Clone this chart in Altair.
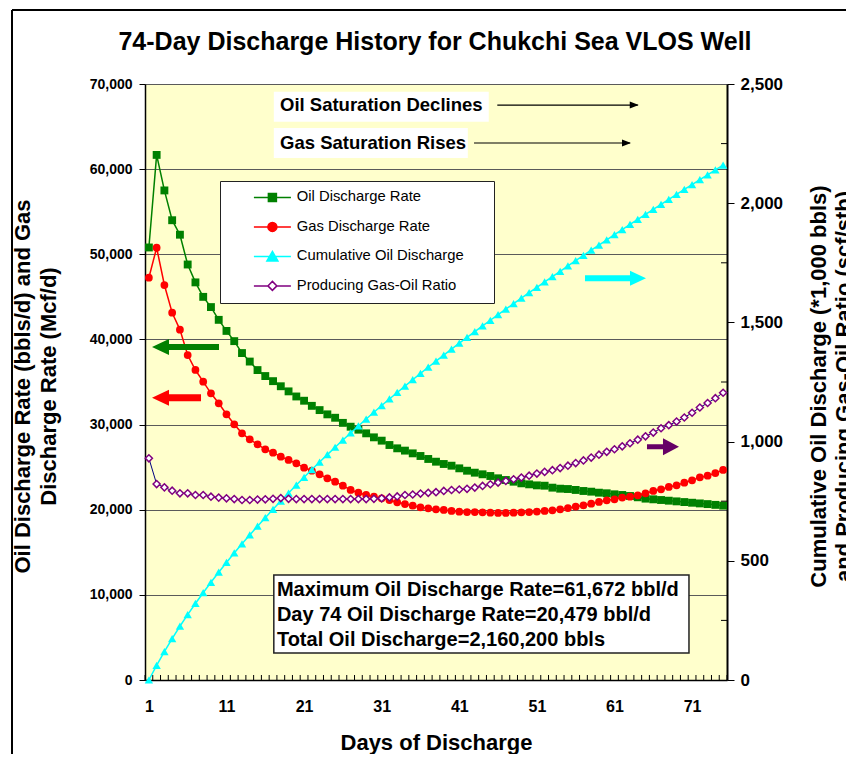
import altair as alt
import pandas as pd

# ---------------- data ----------------
chart_title = "74-Day Discharge History for Chukchi Sea VLOS Well"
days = list(range(1, 76))

oil_rate = [50800, 61672, 57500, 54000, 52300, 48800, 46700, 45000, 43800, 42300,
            41000, 39800, 38400, 37400, 36400, 35700, 35100, 34500, 33900, 33300,
            32800, 32200, 31700, 31200, 30800, 30200, 29750, 29400, 28970, 28500,
            28110, 27600, 27210, 26940, 26620, 26310, 25960, 25640, 25370, 25170,
            24860, 24580, 24350, 24160, 23960, 23690, 23490, 23290, 23100, 22980,
            22860, 22820, 22590, 22470, 22430, 22320, 22200, 22120, 22000, 21930,
            21810, 21730, 21610, 21460, 21300, 21220, 21140, 21060, 20980, 20900,
            20820, 20740, 20660, 20570, 20479]

gas_rate = [47250, 50770, 46390, 43140, 41150, 38170, 36410, 35040, 33670, 32500,
            31210, 30030, 28970, 28270, 27680, 27100, 26700, 26230, 25840, 25450,
            24940, 24580, 24160, 23690, 23290, 22820, 22320, 22000, 21730, 21530,
            21340, 21140, 20870, 20670, 20470, 20280, 20160, 20050, 19970, 19850,
            19770, 19730, 19730, 19700, 19650, 19620, 19620, 19650, 19700, 19730,
            19780, 19850, 19930, 20050, 20200, 20360, 20520, 20710, 20910, 21100,
            21220, 21420, 21530, 21690, 21930, 22200, 22400, 22670, 22870, 23170,
            23450, 23810, 24000, 24310, 24670]

cum_oil = [0, 61.7, 119.2, 173.2, 225.5, 274.3, 321.0, 366.0, 409.8, 452.1,
           493.1, 532.9, 571.3, 608.7, 645.1, 680.8, 715.9, 750.4, 784.3, 817.6,
           850.4, 882.6, 914.3, 945.5, 976.3, 1006.5, 1036.3, 1065.7, 1094.7, 1123.2,
           1151.3, 1178.9, 1206.1, 1233.0, 1259.6, 1285.9, 1311.9, 1337.5, 1362.9, 1388.1,
           1412.8, 1437.2, 1461.3, 1485.3, 1509.0, 1532.5, 1555.8, 1578.9, 1601.8, 1624.6,
           1647.2, 1669.8, 1692.2, 1714.5, 1736.7, 1758.8, 1780.8, 1802.7, 1824.5, 1846.3,
           1867.9, 1889.4, 1910.8, 1932.1, 1953.2, 1974.2, 1995.1, 2016.0, 2036.8, 2057.5,
           2078.1, 2098.6, 2119.1, 2139.5, 2160.2]

gor = [930, 822, 808, 794, 783, 783, 776, 776, 769, 765,
       762, 759, 755, 755, 757, 758, 760, 763, 760, 759,
       759, 759, 759, 759, 759, 759, 759, 759, 759, 760,
       762, 766, 770, 776, 778, 782, 785, 788, 793, 797,
       799, 802, 807, 814, 821, 828, 835, 842, 849, 857,
       866, 873, 880, 889, 899, 910, 921, 933, 945, 957,
       968, 980, 993, 1008, 1022, 1038, 1056, 1069, 1084, 1101,
       1121, 1143, 1162, 1182, 1205]

series_names = ["Oil Discharge Rate", "Gas Discharge Rate",
                "Cumulative Oil Discharge", "Producing Gas-Oil Ratio"]

x_tick_labels = [1, 11, 21, 31, 41, 51, 61, 71]
left_ticks = [0, 10000, 20000, 30000, 40000, 50000, 60000, 70000]
right_ticks = [0, 500, 1000, 1500, 2000, 2500]
right_minor = [250, 750, 1250, 1750, 2250]

# annotations (in data units of the left axis)
note_labels = ["Oil Saturation Declines", "Gas Saturation Rises"]
note_box_day = [17.1, 17.1]
note_box_day_end = [44.8, 42.1]
note_box_lo = [65570, 61310]
note_box_hi = [69100, 64830]
note_text_day = [17.9, 17.9]
note_text_val = [67530, 63070]
note_arrow_start = [45.9, 42.9]
note_arrow_end = [64.0, 63.0]

info_lines = ["Maximum Oil Discharge Rate=61,672 bbl/d",
              "Day 74 Oil Discharge Rate=20,479 bbl/d",
              "Total Oil Discharge=2,160,200 bbls"]
info_text_day = [17.5, 17.5, 17.5]
info_text_val = [10570, 7630, 4700]
info_box = {"d1": [17.1], "d2": [70.6], "v1": [3170], "v2": [12330]}

# ---------------- tables ----------------
left_df = pd.DataFrame({
    "day": days * 2,
    "value": oil_rate + gas_rate,
    "series": [series_names[0]] * len(days) + [series_names[1]] * len(days),
})
right_df = pd.DataFrame({
    "day": days * 2,
    "value": cum_oil + gor,
    "series": [series_names[2]] * len(days) + [series_names[3]] * len(days),
})
notes_df = pd.DataFrame({
    "t": note_labels, "bx1": note_box_day, "bx2": note_box_day_end,
    "by1": note_box_lo, "by2": note_box_hi, "tx": note_text_day, "ty": note_text_val,
    "ax1": note_arrow_start, "ax2": note_arrow_end,
})
info_df = pd.DataFrame({"t": info_lines, "tx": info_text_day, "ty": info_text_val})
infobox_df = pd.DataFrame(info_box)
xtick_df = pd.DataFrame({"pos": [d - 0.5 for d in range(1, 77)]})
minor_df = pd.DataFrame({"v": right_minor})
one_df = pd.DataFrame({"a": [0]})
title_df = pd.DataFrame({"t": [chart_title]})

W, H = 582, 596
FONT = "Liberation Sans"

x_scale = alt.Scale(domain=[0.5, 75.5], nice=False, zero=False)
x_axis = alt.Axis(values=x_tick_labels, title="Days of Discharge", ticks=False,
                  labelFontSize=16, labelFontWeight="bold", labelColor="black",
                  labelPadding=18, labelFlush=False, domainColor="black", domainWidth=1.5,
                  grid=False, titleFontSize=22, titleFontWeight="bold", titleColor="black",
                  titleY=62, titleBaseline="middle")

ly_scale = alt.Scale(domain=[0, 70000], nice=False, zero=True)
ly_axis = alt.Axis(values=left_ticks, format=",d", grid=True, gridColor="#5a5a5a",
                   gridWidth=1, domainColor="black", domainWidth=1.5, tickColor="black",
                   tickSize=6, labelFontSize=14, labelFontWeight="bold", labelColor="black",
                   labelPadding=7,
                   title=["Oil Discharge Rate (bbls/d) and Gas", "Discharge Rate (Mcf/d)"],
                   titleFontSize=22, titleFontWeight="bold", titleColor="black",
                   titleAngle=270, titleX=-123, titleY=302, titleAlign="center",
                   titleBaseline="middle", titleLineHeight=26)

ry_scale = alt.Scale(domain=[0, 2500], nice=False, zero=True)
ry_axis = alt.Axis(orient="right", values=right_ticks, format=",d", grid=False,
                   domainColor="black", domainWidth=2, tickColor="black", tickSize=7,
                   labelFontSize=17, labelFontWeight="bold", labelColor="black",
                   labelPadding=6,
                   title=["Cumulative Oil Discharge (*1,000 bbls)",
                          "and Producing Gas-Oil Ratio (scf/stb)"],
                   titleFontSize=22, titleFontWeight="bold", titleColor="black",
                   titleAngle=270, titleX=91, titleY=302, titleAlign="center",
                   titleBaseline="middle", titleLineHeight=25)


def xq(f):
    return alt.X(f, type="quantitative", scale=x_scale, axis=x_axis)


def ly(f):
    return alt.Y(f, type="quantitative", scale=ly_scale, axis=ly_axis)


def ry(f):
    return alt.Y(f, type="quantitative", scale=ry_scale, axis=ry_axis)


def series_layer(df, name, line_color, line_width, point_def, yfun):
    return (alt.Chart(df)
            .transform_filter(alt.datum.series == name)
            .mark_line(color=line_color, strokeWidth=line_width, point=point_def)
            .encode(x=xq("day"), y=yfun("value")))


oil = series_layer(left_df, series_names[0], "#008000", 1.5,
                   alt.OverlayMarkDef(shape="square", filled=True, color="#008000",
                                      size=62, opacity=1), ly)
gas = series_layer(left_df, series_names[1], "#FF0000", 1.5,
                   alt.OverlayMarkDef(shape="circle", filled=True, color="#FF0000",
                                      size=60, opacity=1), ly)
cum = series_layer(right_df, series_names[2], "#00FFFF", 1.5,
                   alt.OverlayMarkDef(shape="triangle-up", filled=True, color="#00FFFF",
                                      size=70, opacity=1), ry)
gor_l = series_layer(right_df, series_names[3], "#000080", 1,
                     alt.OverlayMarkDef(shape="diamond", filled=False, fill="white",
                                        stroke="#800080", strokeWidth=1.5, size=50,
                                        opacity=1), ry)

# frame of the chart area (decoration)
frame_left = alt.Chart(one_df).mark_rule(color="black", strokeWidth=2).encode(
    x=alt.value(-133), y=alt.value(-74), y2=alt.value(H + 200))
frame_top = alt.Chart(one_df).mark_rule(color="black", strokeWidth=2).encode(
    x=alt.value(-133), x2=alt.value(W + 300), y=alt.value(-74))

# chart title
title_layer = alt.Chart(title_df).mark_text(
    fontSize=25, fontWeight="bold", font=FONT, color="black", align="center",
    baseline="middle").encode(x=alt.value(W / 2 - 1), y=alt.value(-42), text="t:N")

# small inward category ticks on the x axis
xticks = alt.Chart(xtick_df).mark_rule(color="black", strokeWidth=1).encode(
    x=xq("pos"), y=alt.value(H - 5), y2=alt.value(H))

# annotations
note_boxes = alt.Chart(notes_df).mark_rect(fill="white").encode(
    x=xq("bx1"), x2=alt.X2("bx2"), y=ly("by1"), y2=alt.Y2("by2"))
note_text = alt.Chart(notes_df).mark_text(
    align="left", baseline="middle", fontSize=18.5, fontWeight="bold", font=FONT,
    color="black").encode(x=xq("tx"), y=ly("ty"), text="t:N")
note_arrows = alt.Chart(notes_df).mark_rule(color="black", strokeWidth=1.2).encode(
    x=xq("ax1"), x2=alt.X2("ax2"), y=ly("ty"))
note_heads = alt.Chart(notes_df).mark_point(
    shape="M1,0L-8,-3.5L-8,3.5Z", size=4, filled=True, color="black", opacity=1
).encode(x=xq("ax2"), y=ly("ty"))

info_rect = alt.Chart(infobox_df).mark_rect(fill="white", stroke="#222222",
                                             strokeWidth=1.5).encode(
    x=xq("d1"), x2=alt.X2("d2"), y=ly("v1"), y2=alt.Y2("v2"))
info_text = alt.Chart(info_df).mark_text(
    align="left", baseline="middle", fontSize=20, fontWeight="bold", font=FONT,
    color="black").encode(x=xq("tx"), y=ly("ty"), text="t:N")


def big_arrow(day, val, path, color):
    d = pd.DataFrame({"d": [day], "v": [val]})
    return alt.Chart(d).mark_point(shape=path, size=4, filled=True, color=color,
                                   opacity=1).encode(x=xq("d"), y=ly("v"))


arrow_green = big_arrow(5.72, 39110, "M-33.5,0L-16.5,-8V-3H33.5V3H-16.5V8Z", "#008000")
arrow_red = big_arrow(4.56, 33160, "M-24.5,0L-7.5,-8V-3.5H24.5V3.5H-7.5V8Z", "#FF0000")
arrow_cyan = big_arrow(61.13, 47180, "M30.5,0L14.5,-7.5V-3H-30.5V3H14.5V7.5Z", "#00FFFF")
arrow_purple = big_arrow(67.25, 27400, "M16,0L0,-8.5V-2.5H-16V2.5H0V8.5Z", "#660066")

# legend (from an empty layer whose scales carry line+marker symbols)
legend_paths = [
    "M-18.5,0H-4M4,0H18.5M-4,-4H4V4H-4ZM209,0",
    "M-18.5,0H-4.5M4.5,0H18.5M-4.5,0A4.5,4.5 0 1,0 4.5,0A4.5,4.5 0 1,0 -4.5,0ZM209,0",
    "M-18.5,0H18.5M0,-5L5.5,4.5H-5.5ZM209,0",
    "M-18.5,0H-4.5M4.5,0H18.5M0,-4.5L4.5,0L0,4.5L-4.5,0ZM209,0",
]
leg = alt.Legend(title=None, orient="none", legendX=75, legendY=97,
                 fillColor="white", strokeColor="#222222", padding=9,
                 symbolSize=4, symbolStrokeWidth=1.5, symbolOffset=36,
                 labelOffset=17, rowPadding=13.5, labelFontSize=14.8, labelFont=FONT,
                 labelColor="black", labelLimit=400)
legend_layer = (alt.Chart(left_df)
                .transform_filter("datum.day < 0")
                .mark_point(filled=True, strokeWidth=1.5, opacity=1)
                .encode(
                    x=xq("day"), y=ly("value"),
                    stroke=alt.Stroke("series:N", scale=alt.Scale(
                        domain=series_names,
                        range=["#008000", "#FF0000", "#00FFFF", "#800080"]), legend=leg),
                    fill=alt.Fill("series:N", scale=alt.Scale(
                        domain=series_names,
                        range=["#008000", "#FF0000", "#00FFFF", "#FFFFFF"]), legend=leg),
                    shape=alt.Shape("series:N", scale=alt.Scale(
                        domain=series_names, range=legend_paths), legend=leg),
                ))

right_minor_ticks = alt.Chart(minor_df).mark_rule(color="black", strokeWidth=1).encode(
    x=alt.value(W - 6), x2=alt.value(W), y=ry("v"))

left_group = alt.layer(frame_left, frame_top, title_layer, xticks, oil, gas, note_boxes,
                       note_text, note_arrows, note_heads, info_rect, info_text,
                       arrow_green, arrow_red, arrow_cyan, arrow_purple, legend_layer)
right_group = alt.layer(cum, gor_l, right_minor_ticks)

chart = (alt.layer(left_group, right_group)
         .resolve_scale(y="independent")
         .properties(
             width=W, height=H,
             autosize=alt.AutoSizeParams(type="none"),
             padding={"left": 137, "top": 76, "right": 119, "bottom": 74},
         )
         .configure(font=FONT, background="white")
         .configure_view(fill="#FFFFCC", stroke="#808080", strokeWidth=1))

chart.save("out.html", embed_options={"renderer": "svg", "actions": False})
